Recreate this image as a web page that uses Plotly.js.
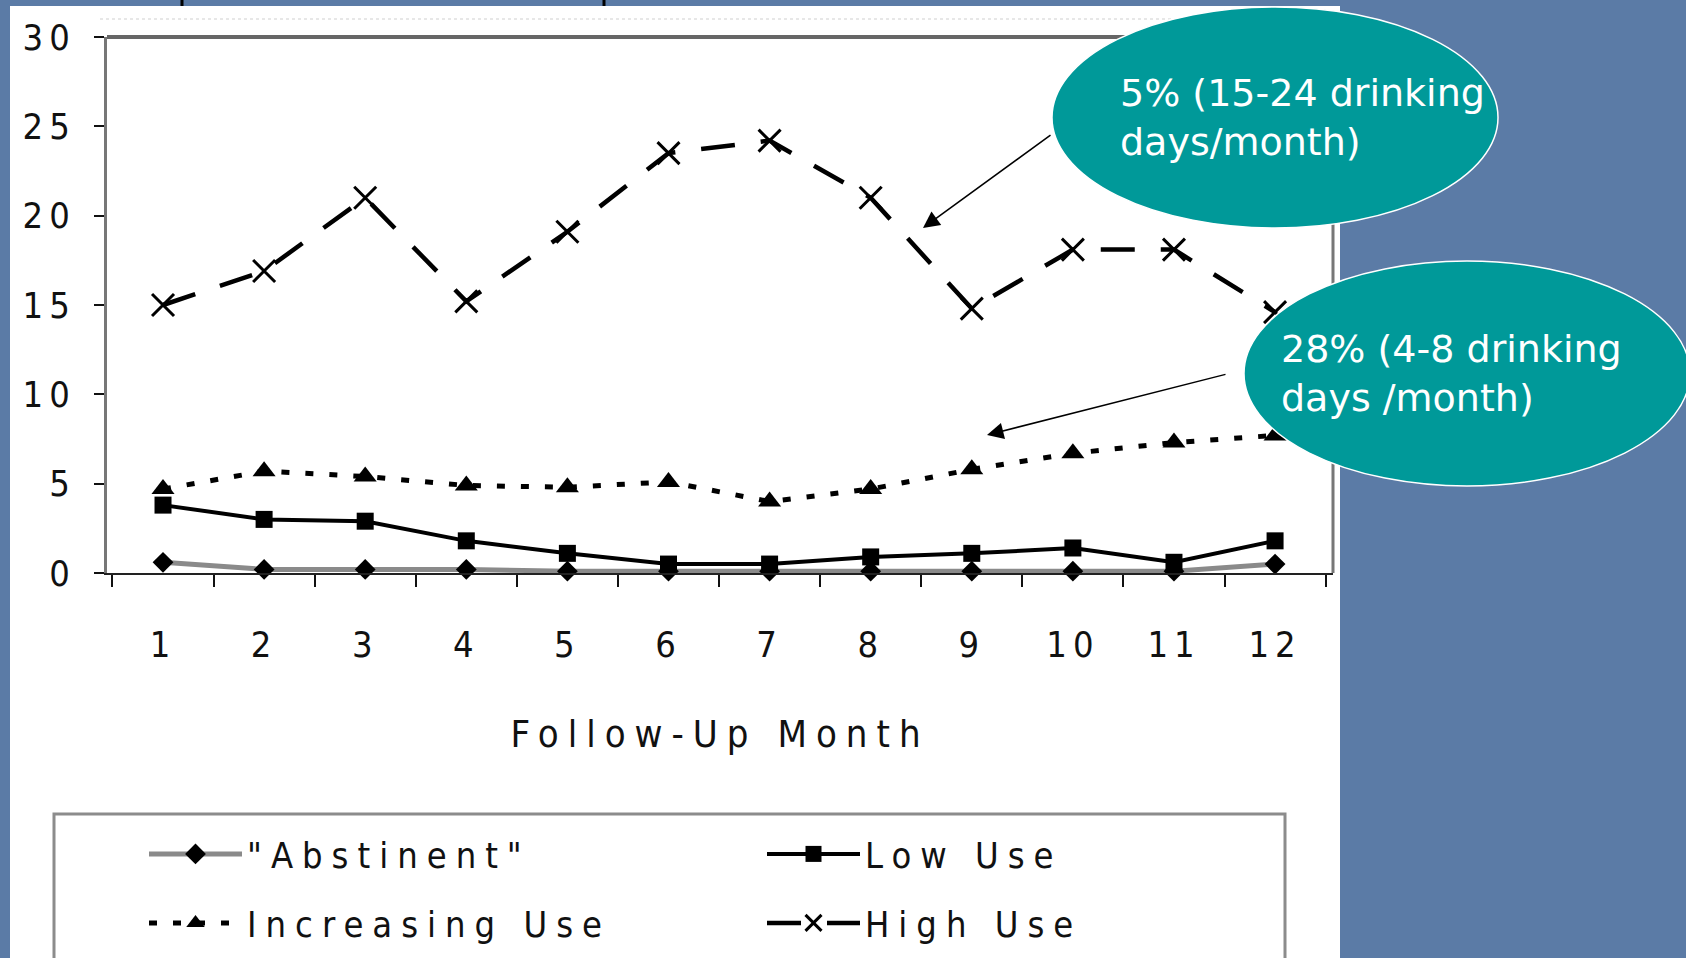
<!DOCTYPE html>
<html><head><meta charset="utf-8">
<script src="https://cdn.plot.ly/plotly-3.0.1.min.js"></script>
<style>
html,body{margin:0;padding:0;background:#5b7ba6;overflow:hidden;}
#chart{width:1686px;height:958px;}
.xtick text{letter-spacing:6px;}
.ytick text{letter-spacing:6px;}
text.legendtext{letter-spacing:9px;}
.g-xtitle text{letter-spacing:9px;}
</style></head><body><div id="chart"></div>
<script>
// ---- data ----
const months = ['1','2','3','4','5','6','7','8','9','10','11','12'];
const abstinent = [0.6,0.2,0.2,0.2,0.1,0.1,0.1,0.1,0.1,0.1,0.1,0.5];
const lowUse = [3.8,3.0,2.9,1.8,1.1,0.5,0.5,0.9,1.1,1.4,0.6,1.8];
const increasingUse = [4.7,5.7,5.4,4.9,4.8,5.1,4.0,4.7,5.8,6.7,7.3,7.7];
const highUse = [15.0,16.9,21.0,15.2,19.1,23.5,24.2,21.0,14.8,18.1,18.1,14.6];
const yTicks = [0,5,10,15,20,25,30];
const seriesNames = ['"Abstinent"','Low Use','Increasing Use','High Use'];
const xTitle = 'Follow-Up Month';
const note1 = '5% (15-24 drinking<br>days/month)';
const note2 = '28% (4-8 drinking<br>days /month)';

// ---- layout helpers ----
const L=107, R=1333, T=37, B=573;
const W=R-L, H=B-T;
const fx = X => (X-L)/W, fy = Y => (B-Y)/H;
const NARROW = '"Liberation Sans Narrow", "DejaVu Sans Condensed", "Arial Narrow", sans-serif';
const CALLOUT = '"DejaVu Sans", Tahoma, Verdana, sans-serif';

const traces = [
  {x:months, y:abstinent, name:seriesNames[0], type:'scatter', mode:'lines+markers', cliponaxis:false,
   line:{color:'#8a8a8a', width:5}, marker:{symbol:'diamond', size:16, color:'#000'}, legend:'legend'},
  {x:months, y:lowUse, name:seriesNames[1], type:'scatter', mode:'lines+markers', cliponaxis:false,
   line:{color:'#000', width:4}, marker:{symbol:'square', size:17, color:'#000'}, legend:'legend2'},
  {x:months, y:increasingUse, name:seriesNames[2], type:'scatter', mode:'lines+markers', cliponaxis:false,
   line:{color:'#000', width:5, dash:'8px,16px'}, marker:{symbol:'triangle-up', size:20, color:'#000'}, legend:'legend3'},
  {x:months, y:highUse, name:seriesNames[3], type:'scatter', mode:'lines+markers', cliponaxis:false,
   line:{color:'#000', width:4.5, dash:'34px,26px'}, marker:{symbol:'x-thin-open', size:22, line:{color:'#000', width:3}}, legend:'legend4'}
];

function legendOpts(x, y) {
  return {x:x, y:y, orientation:'h', xanchor:'left', yanchor:'middle', bgcolor:'rgba(0,0,0,0)', borderwidth:0,
    font:{family:NARROW, size:36, color:'#111'}, itemwidth:93, itemclick:false};
}

const layout = {
  width:1686, height:958,
  font:{family:NARROW, size:36, color:'#111'},
  margin:{l:L, r:1686-R, t:T, b:958-B, pad:0, autoexpand:false},
  paper_bgcolor:'#5b7ba6', plot_bgcolor:'rgba(0,0,0,0)',
  showlegend:true,
  xaxis:{type:'category', range:[-0.554,11.573], tickson:'boundaries', ticks:'outside', ticklen:12, tickwidth:2,
    tickcolor:'#111', showline:true, linecolor:'#222', linewidth:2, showgrid:false, zeroline:false,
    tickfont:{family:NARROW, size:36, color:'#111'}, ticklabelstandoff:39, automargin:false, fixedrange:true,
    title:{text:xTitle, font:{family:NARROW, size:38, color:'#111'}, standoff:56}},
  yaxis:{range:[0,30], tickmode:'array', tickvals:yTicks, ticktext:yTicks.map(String), ticks:'outside', ticklen:10, tickwidth:2,
    tickcolor:'#111', showline:true, linecolor:'#777', linewidth:3, showgrid:false, zeroline:false,
    tickfont:{family:NARROW, size:36, color:'#111'}, ticklabelstandoff:11, automargin:false, fixedrange:true},
  legend:legendOpts(fx(144), fy(854)),
  legend2:legendOpts(fx(762), fy(854)),
  legend3:legendOpts(fx(144), fy(923)),
  legend4:legendOpts(fx(762), fy(923)),
  shapes:[
    {type:'rect', xref:'paper', yref:'paper', x0:fx(10), x1:fx(1340), y0:fy(6), y1:fy(970), fillcolor:'#ffffff', line:{width:0}, layer:'below'},
    {type:'line', xref:'paper', yref:'paper', x0:fx(182), x1:fx(182), y0:fy(0), y1:fy(6), line:{color:'#000', width:3}, layer:'below'},
    {type:'line', xref:'paper', yref:'paper', x0:fx(604), x1:fx(604), y0:fy(0), y1:fy(6), line:{color:'#000', width:3}, layer:'below'},
    {type:'line', xref:'paper', yref:'paper', x0:fx(100), x1:fx(1333), y0:fy(19), y1:fy(19), line:{color:'#cfcfcf', width:1, dash:'dot'}, layer:'below'},
    {type:'line', xref:'paper', yref:'paper', x0:0, x1:1, y0:1, y1:1, line:{color:'#666', width:4}, layer:'below'},
    {type:'line', xref:'paper', yref:'paper', x0:1, x1:1, y0:0, y1:1, line:{color:'#777', width:3}, layer:'below'},
    {type:'rect', xref:'paper', yref:'paper', x0:fx(54), x1:fx(1285), y0:fy(814), y1:fy(975), fillcolor:'rgba(0,0,0,0)', line:{color:'#8c8c8c', width:3}, layer:'below'},
    {type:'circle', xref:'paper', yref:'paper', x0:fx(1052), x1:fx(1498), y0:fy(228), y1:fy(7), fillcolor:'#009999', line:{color:'#ffffff', width:1.5}, layer:'above'},
    {type:'circle', xref:'paper', yref:'paper', x0:fx(1244), x1:fx(1690), y0:fy(486), y1:fy(261), fillcolor:'#009999', line:{color:'#ffffff', width:1.5}, layer:'above'}
  ],
  annotations:[
    {xref:'paper', yref:'paper', x:fx(923), y:fy(228), ax:129, ay:-94, text:'', showarrow:true, arrowhead:2, arrowsize:2.2, arrowwidth:1.5, arrowcolor:'#000'},
    {xref:'paper', yref:'paper', x:fx(987), y:fy(435), ax:240, ay:-61, text:'', showarrow:true, arrowhead:2, arrowsize:2.2, arrowwidth:1.5, arrowcolor:'#000'},
    {xref:'paper', yref:'paper', x:fx(1118), y:fy(117), xanchor:'left', yanchor:'middle', align:'left', showarrow:false,
     text:note1, font:{family:CALLOUT, size:38, color:'#ffffff'}},
    {xref:'paper', yref:'paper', x:fx(1279), y:fy(373), xanchor:'left', yanchor:'middle', align:'left', showarrow:false,
     text:note2, font:{family:CALLOUT, size:38, color:'#ffffff'}}
  ]
};

Plotly.newPlot('chart', traces, layout, {displayModeBar:false, staticPlot:true}).then(gd => {
  const legendGroups = gd.querySelectorAll('g.legend, g.legend2, g.legend3, g.legend4, g[class^="legend"]');
  legendGroups.forEach(g => {
    // letter-spaced legend labels, as in the original figure
    g.querySelectorAll('text').forEach(t => { t.style.letterSpacing = '9px'; });
    // let the widened labels show in full
    g.querySelectorAll('[clip-path]').forEach(e => e.removeAttribute('clip-path'));
    if (g.hasAttribute('clip-path')) g.removeAttribute('clip-path');
  });
});
</script></body></html>
